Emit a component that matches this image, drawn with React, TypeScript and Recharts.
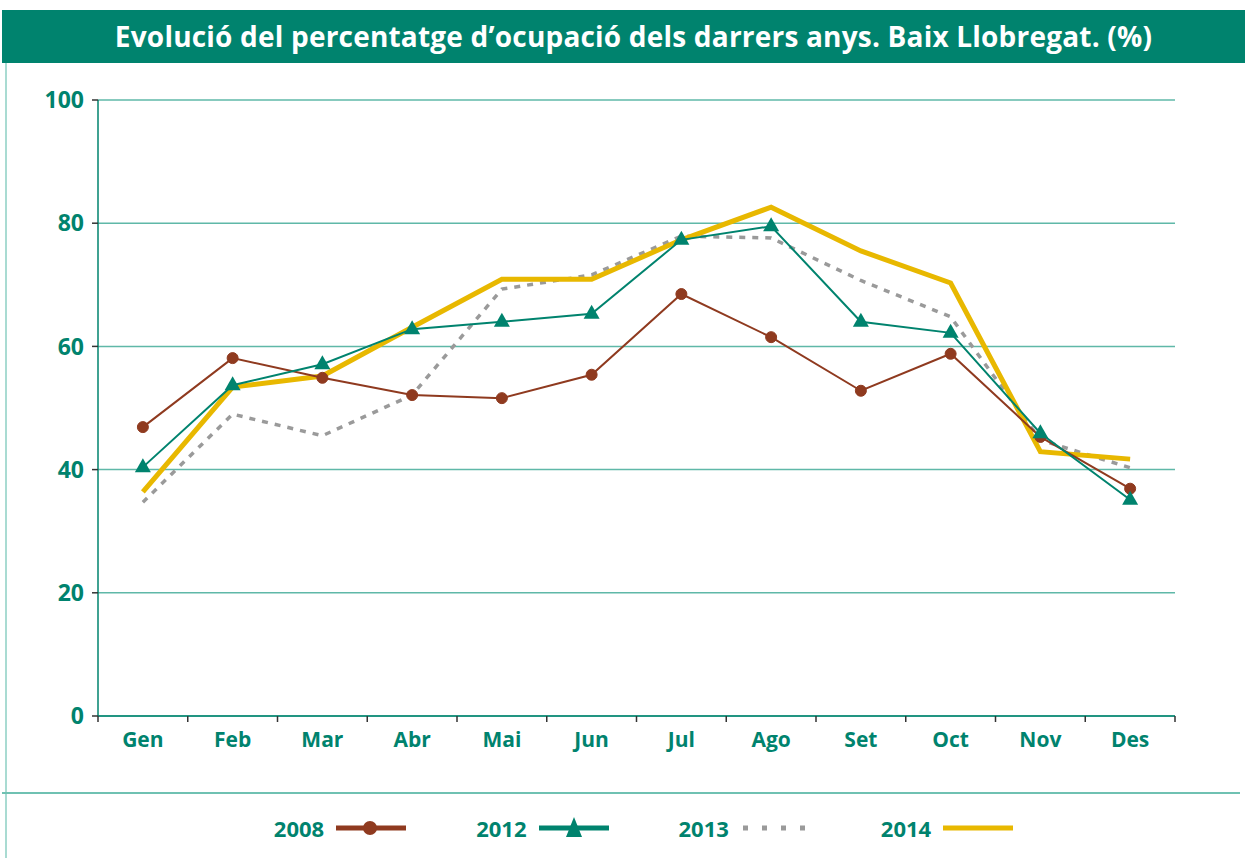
import React from 'react';
import { LineChart, Line, XAxis, YAxis, CartesianGrid } from 'recharts';

const months = ['Gen', 'Feb', 'Mar', 'Abr', 'Mai', 'Jun', 'Jul', 'Ago', 'Set', 'Oct', 'Nov', 'Des'];
const s2008 = [46.9, 58.1, 54.9, 52.1, 51.6, 55.4, 68.5, 61.5, 52.8, 58.8, 45.3, 36.9];
const s2012 = [40.4, 53.7, 57.1, 62.8, 64.0, 65.3, 77.3, 79.5, 64.0, 62.2, 45.9, 35.1];
const s2013 = [34.7, 49.0, 45.5, 52.1, 69.3, 71.6, 77.9, 77.6, 70.7, 64.8, 44.8, 40.3];
const s2014 = [36.4, 53.4, 55.2, 63.1, 70.9, 70.9, 77.3, 82.6, 75.5, 70.3, 42.9, 41.7];
const yTicks = [0, 20, 40, 60, 80, 100];
const title = 'Evolució del percentatge d\u2019ocupació dels darrers anys. Baix Llobregat. (%)';

const TEAL = '#00836e';
const GRID = '#5fb8a8';
const BROWN = '#8f3a1f';
const GREY = '#9a9a9a';
const YELLOW = '#e8b800';
const FONT = '"Open Sans", "Noto Sans", sans-serif';

const data = months.map((m, i) => ({ m, a: s2008[i], b: s2012[i], c: s2013[i], d: s2014[i] }));

const Triangle = (props: any) => {
  const { cx, cy } = props;
  if (cx == null || cy == null) return null;
  return <polygon points={`${cx},${cy - 9} ${cx + 8},${cy + 5} ${cx - 8},${cy + 5}`} fill={TEAL} />;
};

const XTick = (props: any) => {
  const { x, y, payload, index } = props;
  const off = payload.offset || 0;
  return (
    <g>
      <line x1={x - off} x2={x - off} y1={y} y2={y + 6} stroke="#333" strokeWidth={1.5} />
      {index === months.length - 1 && (
        <line x1={x + off} x2={x + off} y1={y} y2={y + 6} stroke="#333" strokeWidth={1.5} />
      )}
      <text x={x} y={y + 31} textAnchor="middle" fill={TEAL} fontWeight={700} fontSize={21} fontFamily={FONT}>
        {payload.value}
      </text>
    </g>
  );
};

const legendItems = [
  { name: '2008', kind: 'circle', color: BROWN },
  { name: '2012', kind: 'triangle', color: TEAL },
  { name: '2013', kind: 'dash', color: GREY },
  { name: '2014', kind: 'line', color: YELLOW },
];

const LegendSymbol = ({ kind, color }: { kind: string; color: string }) => (
  <svg width={72} height={24} style={{ display: 'block' }}>
    {kind === 'dash' ? (
      <line x1={2} x2={72} y1={12} y2={12} stroke={color} strokeWidth={5} strokeDasharray="5 14" />
    ) : (
      <line x1={0} x2={70} y1={12} y2={12} stroke={color} strokeWidth={5} />
    )}
    {kind === 'circle' && <circle cx={34} cy={12} r={7} fill={color} />}
    {kind === 'triangle' && <polygon points="35,1 43,21 27,21" fill={color} />}
  </svg>
);

export default function App() {
  return (
    <div style={{ position: 'absolute', left: 0, top: 0, width: 1245, height: 858, background: '#fff', overflow: 'hidden' }}>
      <div
        style={{
          position: 'absolute', left: 2, top: 10, width: 1243, height: 53, background: TEAL, color: '#fff',
          fontFamily: FONT, fontWeight: 700, fontSize: 28, lineHeight: '53px', textAlign: 'center', letterSpacing: 0.2,
          whiteSpace: 'nowrap', paddingLeft: 20, boxSizing: 'border-box',
        }}
      >
        {title}
      </div>
      <div style={{ position: 'absolute', left: 5, top: 63, width: 2, height: 795, background: '#a9dbd2' }} />
      <div style={{ position: 'absolute', left: 2, top: 792, width: 1238, height: 2, background: '#6fc1b2' }} />
      <div style={{ position: 'absolute', left: 0, top: 0 }}>
        <LineChart width={1245} height={780} data={data} margin={{ top: 100, right: 70, bottom: 24, left: 0 }}>
          <CartesianGrid vertical={false} stroke={GRID} strokeWidth={1.5} />
          <XAxis
            dataKey="m"
            scale="band"
            axisLine={{ stroke: TEAL, strokeWidth: 1.5 }}
            tickLine={false}
            tickSize={0}
            tickMargin={0}
            height={40}
            interval={0}
            tick={<XTick />}
          />
          <YAxis
            domain={[0, 100]}
            ticks={yTicks}
            width={98}
            axisLine={{ stroke: TEAL, strokeWidth: 1.5 }}
            tickLine={{ stroke: '#333', strokeWidth: 1.5 }}
            tickSize={6}
            tickMargin={8}
            tick={{ fill: TEAL, fontWeight: 700, fontSize: 23, fontFamily: FONT }}
          />
          <YAxis yAxisId="r" orientation="right" width={0} tick={false} tickLine={false} axisLine={{ stroke: TEAL, strokeWidth: 1.5 }} domain={[0, 100]} />
          <Line dataKey="c" stroke={GREY} strokeWidth={3.5} strokeDasharray="6 7" dot={false} isAnimationActive={false} />
          <Line dataKey="d" stroke={YELLOW} strokeWidth={5} dot={false} isAnimationActive={false} />
          <Line dataKey="a" stroke={BROWN} strokeWidth={2} dot={{ r: 5.5, fill: BROWN, stroke: BROWN, strokeWidth: 1 }} isAnimationActive={false} />
          <Line dataKey="b" stroke={TEAL} strokeWidth={2} dot={<Triangle />} isAnimationActive={false} />
        </LineChart>
      </div>
      <div
        style={{
          position: 'absolute', top: 815, left: 0, width: 1245, display: 'flex', justifyContent: 'center',
          fontFamily: FONT, fontWeight: 700, fontSize: 22, color: TEAL, gap: 68, paddingLeft: 44, boxSizing: 'border-box',
        }}
      >
        {legendItems.map((it) => (
          <div key={it.name} style={{ display: 'flex', alignItems: 'center', gap: 12, height: 26 }}>
            <span>{it.name}</span>
            <LegendSymbol kind={it.kind} color={it.color} />
          </div>
        ))}
      </div>
    </div>
  );
}
